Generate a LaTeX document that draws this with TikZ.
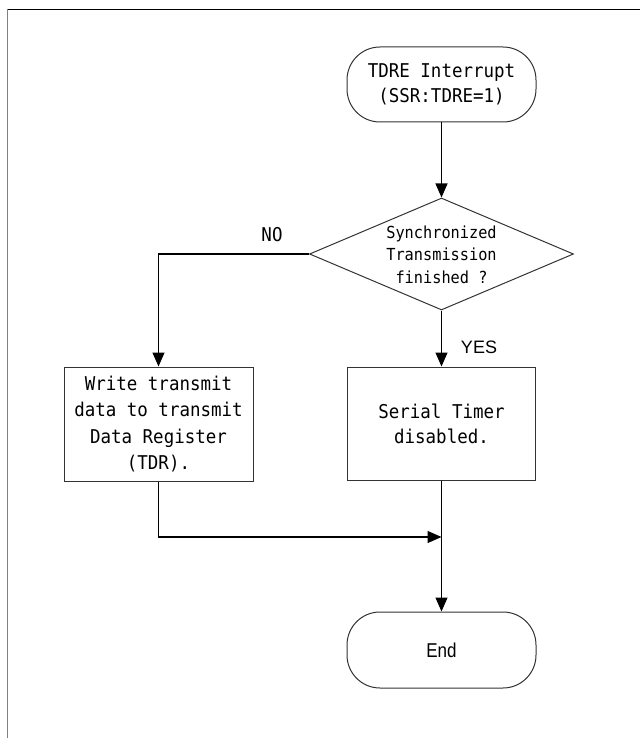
\documentclass[tikz,border=0pt]{standalone}
\usepackage{fontspec}
\setmainfont{Liberation Sans}
\newfontfamily\gothic[FakeStretch=0.92]{DejaVu Sans Mono}
\newfontfamily\endfont[FakeStretch=0.85]{Liberation Sans}
\usetikzlibrary{shapes.geometric,arrows.meta}
\begin{document}
\begin{tikzpicture}[x=1pt,y=-1pt,
  box/.style={draw=black!80,line width=1pt,rectangle,inner sep=0pt,align=center,
    font=\gothic\fontsize{19}{26}\selectfont},
  term/.style={box,rounded corners=33pt},
  conn/.style={line width=1.1pt},
  arr/.style={conn,-{Triangle[length=14pt,width=12pt]}}
]
\useasboundingbox (0,0) rectangle (640,738);
% frame
\draw[line width=1.3pt] (7,9.5) -- (640,9.5);
\draw[gray, line width=1.6pt] (7.5,9.5) -- (7.5,738);

\node[term, minimum width=189pt, minimum height=75pt,
  font=\gothic\fontsize{19}{25}\selectfont] (start) at (441.5,84.5) {TDRE Interrupt\\(SSR:TDRE=1)};
\node[diamond, draw=black!80, line width=1pt, minimum width=264pt,
  minimum height=112pt, inner sep=0pt, aspect=2.36] (dec) at (441.5,254) {};
\node[font=\gothic\fontsize{16.6}{22.5}\selectfont, align=center] (dectext) at (441.5,254.5)
  {Synchronized\\Transmission\\finished ?};
\node[box, minimum width=189pt, minimum height=114pt,
  font=\gothic\fontsize{19}{26.3}\selectfont] (left) at (158.5,424)
  {Write transmit\\data to transmit\\Data Register\\(TDR).};
\node[box, minimum width=188pt, minimum height=113pt,
  font=\gothic\fontsize{19}{25}\selectfont] (right) at (441.5,423.5) {Serial Timer\\disabled.};
\node[term, minimum width=189pt, minimum height=76pt,
  font=\endfont\fontsize{20}{24}\selectfont] (end) at (441.5,650) {End};

\node[font=\gothic\fontsize{19}{22}\selectfont] (no) at (272,235) {NO};
\node[font=\fontsize{18}{22}\selectfont] (yes) at (479,347) {YES};

\draw[arr] (start) -- (dec);
\draw[arr] (dec.west) -| (left.north);
\draw[arr] (dec.south) -- (right.north);
\coordinate (join) at (441.5,537);
\draw[arr] (left.south) |- (join);
\draw[arr] (right.south) -- (end.north);
\end{tikzpicture}
\end{document}
